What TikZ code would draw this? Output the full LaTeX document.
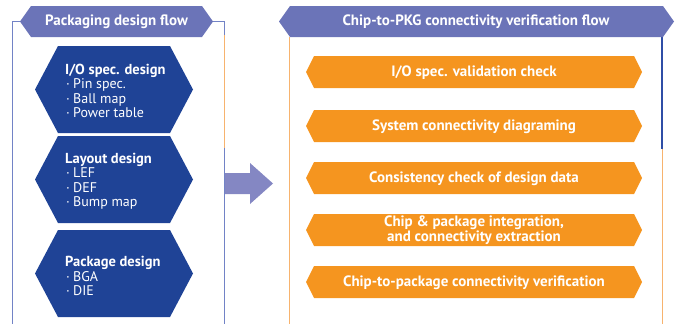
\documentclass[tikz,border=0pt]{standalone}
\usepackage{fontspec}
\setmainfont{PT Sans}
\usetikzlibrary{positioning}
\tikzstyle{flow} = [x = 1pt, y = -1pt]
\definecolor{headerColor}{HTML}{6B74B8}
\definecolor{designColor}{HTML}{1F4396}
\definecolor{checkColor}{HTML}{F5951F}
\definecolor{arrowColor}{HTML}{8487C3}
\definecolor{frameBlue}{HTML}{7283C6}
\definecolor{frameDark}{HTML}{2F4EA6}
\definecolor{frameOrange}{HTML}{F7B36E}
\tikzstyle{headerStyle} = [fill=headerColor]
\tikzstyle{designStyle} = [fill=designColor]
\tikzstyle{checkStyle} = [fill=checkColor]
\tikzstyle{headerText} = [text=white, font=\fontsize{15}{15}\selectfont\bfseries]
\tikzstyle{checkText} = [text=white, align=center, font=\fontsize{15}{15}\selectfont\bfseries]
\tikzstyle{designText} = [text=white, align=left, anchor=west, inner sep=0pt, font=\fontsize{14}{14.5}\selectfont]
\tikzstyle{frameLine} = [color=frameBlue, line width=.9pt]
\tikzstyle{frameLineDark} = [color=frameDark, line width=1.8pt]
\tikzstyle{frameLineOrange} = [color=frameOrange, line width=.9pt]
\newcommand{\itemDot}{\makebox[8pt][l]{\hspace{1pt}·}}
\newcommand{\hexagon}[6]{\fill [#1] (#2, #4 + #5 / 2) -- (#2 + #6, #4) -- (#3 - #6, #4) -- (#3, #4 + #5 / 2) -- (#3 - #6, #4 + #5) -- (#2 + #6, #4 + #5) -- cycle;}
\newcommand{\checkStep}[3]{
  \hexagon{checkStyle}{306}{642}{#1}{32}{8}
  \node [checkText] (#2) at (474, #1 + 16.5) {#3};
}
\newcommand{\designStep}[5]{
  \hexagon{designStyle}{35}{193}{#1}{87}{23}
  \node [designText] (#2) at (65, #3) {{\fontsize{14.5}{17}\selectfont\bfseries #4}\\#5};
}

\begin{document}
\begin{tikzpicture}[flow]
  \useasboundingbox (0,0) rectangle (675,324);
  % left frame
  \draw [frameLine] (20,21) -- (12,21) -- (12,324);
  \draw [frameLine] (213,21) -- (224,21) -- (224,324);
  \draw [frameLineOrange] (224,35) -- (224,148);
  % right frame
  \draw [frameLineOrange] (289,37) -- (289,324);
  \draw [frameLineOrange] (662,148) -- (662,324);
  \draw [frameLineDark] (662,37) -- (662,149);

  \hexagon{headerStyle}{20}{213}{6}{31}{11}
  \node [headerText] (packagingTitle) at (116.5,21.5) {Packaging design flow};
  \hexagon{headerStyle}{279}{674}{6}{31}{11}
  \node [headerText] (verifyTitle) at (476,21.5) {Chip-to-PKG connectivity verification flow};

  \designStep{46}{ioDesign}{91}{I/O spec. design}{\itemDot Pin spec.\\\itemDot Ball map\\\itemDot Power table}
  \designStep{136}{layoutDesign}{181}{Layout design}{\itemDot LEF\\\itemDot DEF\\\itemDot Bump map}
  \designStep{230}{packageDesign}{276}{Package design}{\itemDot BGA\\\itemDot DIE}

  \fill [arrowColor] (225,173) -- (250,173) -- (250,163) -- (273,183.5) -- (250,204) -- (250,194) -- (225,194) -- cycle;

  \checkStep{56}{ioCheck}{I/O spec. validation check}
  \checkStep{110}{systemCheck}{System connectivity diagraming}
  \checkStep{162}{consistencyCheck}{Consistency check of design data}
  \checkStep{214}{integrationCheck}{Chip \& package integration,\\and connectivity extraction}
  \checkStep{266}{connectivityCheck}{Chip-to-package connectivity verification}
\end{tikzpicture}
\end{document}
